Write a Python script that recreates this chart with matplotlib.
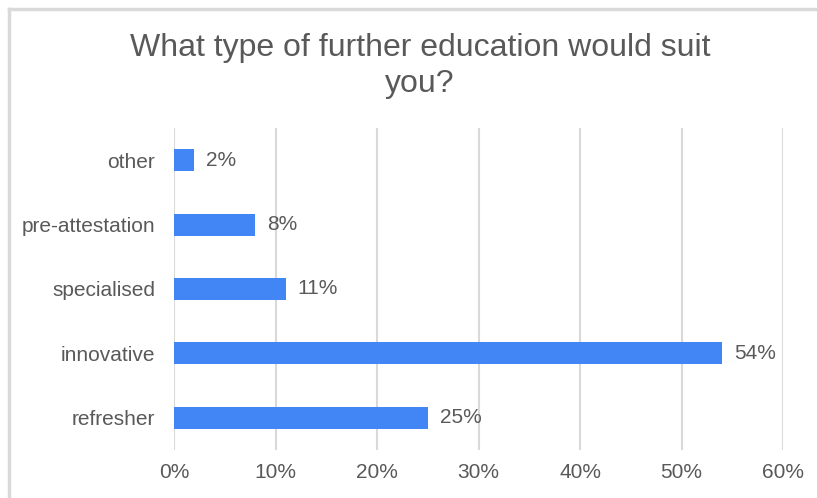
import matplotlib.pyplot as plt
from matplotlib.lines import Line2D
from matplotlib.ticker import FuncFormatter

plt.rcParams['font.family'] = ['Liberation Sans', 'DejaVu Sans']

categories = ['refresher', 'innovative', 'specialised', 'pre-attestation', 'other']
values = [25, 54, 11, 8, 2]
ticks = [0, 10, 20, 30, 40, 50, 60]

text_col = '#595959'
bar_col = '#4285F4'
grid_col = '#d9d9d9'

W, H = 817, 498
fig = plt.figure(figsize=(W / 100, H / 100), dpi=100)
ax = fig.add_axes([174 / W, 1 - 450 / H, (783 - 174) / W, (450 - 128) / H])

ax.barh(range(len(categories)), values, height=0.34, color=bar_col, zorder=3)
for i, v in enumerate(values):
    ax.text(v + 1.2, i, f'{v}%', va='center', ha='left', fontsize=15, color=text_col)

ax.set_xlim(0, 60)
ax.set_ylim(-0.5, len(categories) - 0.5)
ax.set_xticks(ticks)
ax.xaxis.set_major_formatter(FuncFormatter(lambda x, p: f'{x:.0f}%'))
ax.set_yticks(range(len(categories)))
ax.set_yticklabels(categories)
ax.tick_params(axis='both', length=0, labelsize=15, labelcolor=text_col)
ax.tick_params(axis='x', pad=9)
ax.tick_params(axis='y', pad=13.5)
ax.grid(axis='x', color=grid_col, linewidth=1.5, zorder=0)
for s in ax.spines.values():
    s.set_visible(False)

fig.text(420 / W, 1 - 48 / H, 'What type of further education would suit', ha='center', va='center',
         fontsize=23, color=text_col)
fig.text(420 / W, 1 - 84 / H, 'you?', ha='center', va='center', fontsize=23, color=text_col)

# outer frame (top and left edges visible)
fig.add_artist(Line2D([9 / W, 1], [1 - 9 / H, 1 - 9 / H], color=grid_col, linewidth=2.5))
fig.add_artist(Line2D([9 / W, 9 / W], [0, 1 - 9 / H], color=grid_col, linewidth=2.5))

fig.savefig('out.png', dpi=100)
